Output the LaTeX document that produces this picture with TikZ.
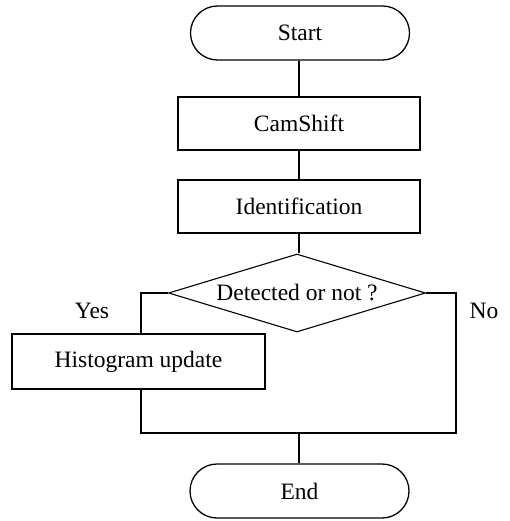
\documentclass[tikz,border=0pt]{standalone}
\usepackage{fontspec}
\setmainfont{Liberation Serif}
\usetikzlibrary{shapes.geometric}
\begin{document}
\begin{tikzpicture}[x=1pt,y=-1pt,
  every node/.style={font=\fontsize{23.5}{28}\selectfont},
  term/.style={draw,line width=1.3pt,rounded corners=27pt,minimum width=219pt,minimum height=54pt,inner sep=0pt},
  proc/.style={draw,line width=1.1pt,minimum width=242pt,minimum height=53pt,inner sep=0pt},
  decis/.style={draw,shape=diamond,aspect=3.3,line width=1.1pt,minimum width=257pt,minimum height=78pt,inner sep=0pt},
  conn/.style={line width=1.3pt},
  lbl/.style={inner sep=0pt}]
\useasboundingbox (0,0) rectangle (510,521);
\node[term] (start) at (300,33) {Start};
\node[proc] (cam) at (299,123.5) {CamShift};
\node[proc] (id) at (299,206.5) {Identification};
\node[decis] (dec) at (297,293) {Detected or not ?};
\node[proc,minimum width=253pt,minimum height=55pt] (hist) at (138.5,361.5) {Histogram update};
\node[term] (end) at (299.5,491) {End};
\node[lbl] (yes) at (92,311) {Yes};
\node[lbl] (no) at (484,311) {No};
\coordinate (L) at (141,293);
\coordinate (B) at (141,433);
\coordinate (R) at (456,433);
\coordinate (Rt) at (456,293);
\coordinate (M) at (299,433);
\draw[conn] (start.south -| cam.north) -- (cam.north);
\draw[conn] (cam.south) -- (id.north);
\draw[conn] (id.south) -- (id.south |- dec.north);
\draw[conn] (dec.west) -- (L) -- (L |- hist.north);
\draw[conn] (L |- hist.south) -- (B) -- (R) -- (Rt) -- (dec.east);
\draw[conn] (M) -- (M |- end.north);
\end{tikzpicture}
\end{document}
